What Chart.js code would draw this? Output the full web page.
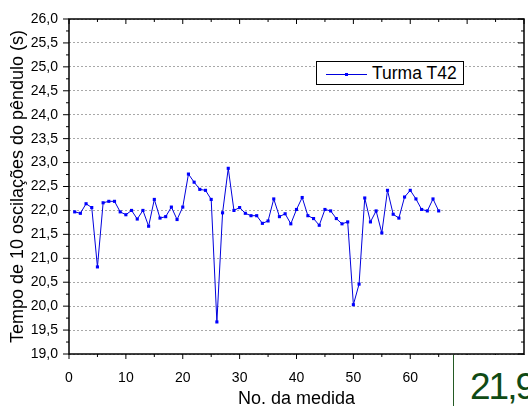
<!DOCTYPE html>
<html><head><meta charset="utf-8">
<script src="https://cdn.jsdelivr.net/npm/chart.js@4.4.0/dist/chart.umd.min.js"></script>
<style>
html,body{margin:0;padding:0;background:#fff;overflow:hidden;width:528px;height:406px}
#wrap{position:relative;width:528px;height:406px;overflow:hidden}
canvas{position:absolute;left:0;top:0}
#legend{position:absolute;left:316px;top:61px;width:146px;height:22px;border:1px solid #000;background:#fff}
#legLine{position:absolute;left:326px;top:74px;width:41px;height:1px;background:#0000dd}
#legMark{position:absolute;left:345px;top:73px;width:3px;height:3px;background:#0000ff}
#legText{position:absolute;left:372px;top:65px;font:17.5px "Liberation Sans",Arial,sans-serif;line-height:1;color:#000;white-space:nowrap}
#avgBox{position:absolute;left:453px;top:355px;width:120px;height:80px;border-left:1px solid #245a24;background:#fff}
#avgText{position:absolute;left:470px;top:368px;font:37px "Liberation Sans",Arial,sans-serif;line-height:1;color:#0f4a14;letter-spacing:-2px;white-space:nowrap}
</style></head>
<body><div id="wrap"><canvas id="c" width="528" height="406"></canvas>
<div id="legend"></div><div id="legLine"></div><div id="legMark"></div><div id="legText">Turma T42</div>
<div id="avgBox"></div><div id="avgText">21,9</div>
</div>
<script>
const measureNo = [1,2,3,4,5,6,7,8,9,10,11,12,13,14,15,16,17,18,19,20,21,22,23,24,25,26,27,28,29,30,31,32,33,34,35,36,37,38,39,40,41,42,43,44,45,46,47,48,49,50,51,52,53,54,55,56,57,58,59,60,61,62,63,64,65];
const tempoT42 = [21.97,21.94,22.14,22.06,20.82,22.16,22.19,22.19,21.97,21.91,22.00,21.82,22.00,21.67,22.23,21.84,21.87,22.07,21.81,22.07,22.76,22.59,22.44,22.42,22.23,19.67,21.95,22.88,22.00,22.06,21.94,21.89,21.89,21.73,21.78,22.24,21.87,21.93,21.72,22.02,22.27,21.89,21.83,21.69,22.02,21.99,21.83,21.72,21.76,20.03,20.46,22.26,21.76,21.99,21.53,22.42,21.92,21.84,22.28,22.42,22.24,22.02,21.99,22.24,21.99];
const xMajorTicks = [0,10,20,30,40,50,60,70,80];
const xMinorTicks = [5,15,25,35,45,55,65,75];
const yMajorTicks = [19,19.5,20,20.5,21,21.5,22,22.5,23,23.5,24,24.5,25,25.5,26];
const yMinorTicks = [19.25,19.75,20.25,20.75,21.25,21.75,22.25,22.75,23.25,23.75,24.25,24.75,25.25,25.75];

const FONT = '"Liberation Sans", Arial, sans-serif';

const framePlugin = {
  id: 'frame',
  afterDraw(chart) {
    const {ctx, chartArea: {left, right, top, bottom}, scales: {x, y}} = chart;
    ctx.save();
    ctx.strokeStyle = '#000';
    ctx.lineWidth = 1;
    ctx.beginPath();
    const tick = (arr, len) => {
      arr.forEach(v => {
        const px = x.getPixelForValue(v);
        ctx.moveTo(px, bottom); ctx.lineTo(px, bottom + len);
        ctx.moveTo(px, top); ctx.lineTo(px, top + len);
      });
    };
    tick(xMajorTicks, 5); tick(xMinorTicks, 3);
    const ytick = (arr, len) => {
      arr.forEach(v => {
        const py = y.getPixelForValue(v);
        ctx.moveTo(left, py); ctx.lineTo(left - len, py);
        ctx.moveTo(right, py); ctx.lineTo(right - len, py);
      });
    };
    ytick(yMajorTicks, 6); ytick(yMinorTicks, 3);
    ctx.stroke();
    ctx.lineWidth = 1.5;
    ctx.strokeRect(left, top, right - left, bottom - top);
    ctx.restore();
  }
};

new Chart(document.getElementById('c'), {
  type: 'line',
  data: {
    labels: measureNo,
    datasets: [{
      label: 'Turma T42',
      data: measureNo.map((n, i) => ({x: n, y: tempoT42[i]})),
      borderColor: '#0000dd',
      backgroundColor: '#0000ff',
      borderWidth: 1,
      pointStyle: 'rect',
      pointRadius: 2.2,
      pointBorderWidth: 0,
      pointBackgroundColor: '#0000ff',
      tension: 0,
      fill: false
    }]
  },
  options: {
    responsive: false,
    animation: false,
    devicePixelRatio: 1,
    layout: {padding: {top: 19, right: 1, left: 0, bottom: 0}},
    plugins: {legend: {display: false}, tooltip: {enabled: false}},
    scales: {
      x: {
        type: 'linear', min: 0, max: 80, position: 'bottom',
        afterBuildTicks(s) { s.ticks = xMajorTicks.map(v => ({value: v})); },
        ticks: {font: {family: FONT, size: 14}, color: '#000', padding: 8, maxRotation: 0, autoSkip: false,
          callback: v => String(v)},
        grid: {display: false},
        border: {display: false},
        title: {display: true, text: 'No. da medida', font: {family: FONT, size: 18}, color: '#000', padding: {top: 0, bottom: -4}},
        afterFit(s) { s.height = 52; s.paddingLeft = 0; s.paddingRight = 0; }
      },
      y: {
        min: 19, max: 26,
        afterBuildTicks(s) { s.ticks = yMajorTicks.map(v => ({value: v})); },
        ticks: {font: {family: FONT, size: 14}, color: '#000', padding: 11,
          callback: v => Number(v).toFixed(1).replace('.', ',')},
        grid: {color: '#a8a8a8', lineWidth: 1, drawTicks: false},
        border: {display: false, dash: [2, 2]},
        title: {display: true, text: 'Tempo de 10 oscilações do pêndulo (s)', font: {family: FONT, size: 18}, color: '#000', padding: {top: 7, bottom: 0}},
        afterFit(s) { s.width = 69; s.paddingTop = 0; s.paddingBottom = 0; }
      }
    }
  },
  plugins: [framePlugin]
});
</script>
</body></html>
